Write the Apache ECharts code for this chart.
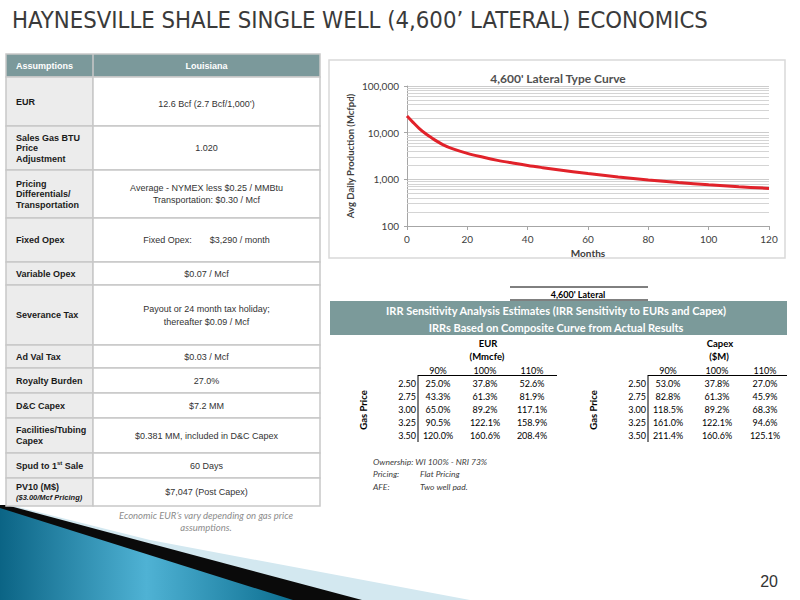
<!DOCTYPE html>
<html>
<head>
<meta charset="utf-8">
<script src="https://cdn.jsdelivr.net/npm/echarts@6/dist/echarts.min.js"></script>
<style>html,body{margin:0;padding:0;background:#fff}#c{width:800px;height:600px}</style>
</head>
<body>
<div id="c"></div>
<script>
// ---------------- DATA ----------------
const slideTitle = 'HAYNESVILLE SHALE SINGLE WELL (4,600’ LATERAL) ECONOMICS';
const chartTitle = '4,600\' Lateral Type Curve';
const months = [0, 2, 4, 6, 8, 10, 12, 15, 20, 25, 30, 35, 40, 45, 50, 60, 70, 80, 90, 100, 110, 120];
const production = [22700, 16600, 12400, 9700, 7900, 6500, 5500, 4550, 3600, 3000, 2550, 2235, 1980, 1780, 1610, 1330, 1125, 970, 855, 765, 695, 640];
const minorGridValues = [200, 300, 400, 500, 600, 700, 800, 900,
  2000, 3000, 4000, 5000, 6000, 7000, 8000, 9000,
  20000, 30000, 40000, 50000, 60000, 70000, 80000, 90000];

const assumptionHeader = ['Assumptions', 'Louisiana'];
const assumptionLabels = ['EUR', 'Sales Gas BTU\nPrice\nAdjustment', 'Pricing\nDifferentials/\nTransportation',
  'Fixed Opex', 'Variable Opex', 'Severance Tax', 'Ad Val Tax', 'Royalty Burden', 'D&C Capex',
  'Facilities/Tubing\nCapex', 'Spud to 1st Sale', 'PV10 (M$)\n($3.00/Mcf Pricing)'];
const assumptionValues = ['12.6 Bcf (2.7 Bcf/1,000’)', '1.020',
  'Average - NYMEX less $0.25 / MMBtu\nTransportation: $0.30 / Mcf',
  'Fixed Opex:\u2003\u2003$3,290 / month', '$0.07 / Mcf',
  'Payout or 24 month tax holiday;\nthereafter $0.09 / Mcf', '$0.03 / Mcf', '27.0%', '$7.2 MM',
  '$0.381 MM, included in D&C Capex', '60 Days', '$7,047 (Post Capex)'];
const footnote = 'Economic EUR’s vary depending on gas price\nassumptions.';

const lateralLabel = '4,600\' Lateral';
const bannerLines = ['IRR Sensitivity Analysis Estimates (IRR Sensitivity to EURs and Capex)',
  'IRRs Based on Composite Curve from Actual Results'];
const gasPrices = ['2.50', '2.75', '3.00', '3.25', '3.50'];
const sensitivityCols = ['90%', '100%', '110%'];
const eurTitle = ['EUR', '(Mmcfe)'];
const capexTitle = ['Capex', '($M)'];
const irrByEUR = [[25.0, 37.8, 52.6], [43.3, 61.3, 81.9], [65.0, 89.2, 117.1], [90.5, 122.1, 158.9], [120.0, 160.6, 208.4]];
const irrByCapex = [[53.0, 37.8, 27.0], [82.8, 61.3, 45.9], [118.5, 89.2, 68.3], [161.0, 122.1, 94.6], [211.4, 160.6, 125.1]];
const notes = [['Ownership: WI 100% - NRI 73%', ''], ['Pricing:', 'Flat Pricing'], ['AFE:', 'Two well pad.']];
const pageNumber = '20';

// ---------------- LAYOUT / RENDER ----------------
const chart = echarts.init(document.getElementById('c'), null, {renderer: 'svg', width: 800, height: 600});
const G = [];
const ARIAL = '"Liberation Sans", Arial, sans-serif';
const CAL = 'Lato, "Open Sans", sans-serif';
const TEAL = '#7b999b';
const BORDER = '#c8c8c8';

function txt(x, y, text, font, fill, align, extra) {
  return Object.assign({type: 'text', x: x, y: y, z: 10,
    style: Object.assign({text: text, font: font, fill: fill, align: align || 'center', verticalAlign: 'middle'}, (extra && extra.style) || {})},
    extra && extra.el || {});
}
function line(x1, y1, x2, y2, stroke, w) {
  return {type: 'line', z: 9, shape: {x1, y1, x2, y2}, style: {stroke: stroke, lineWidth: w || 1}};
}
function rect(x, y, w, h, fill, stroke, lw) {
  return {type: 'rect', z: 5, shape: {x, y, width: w, height: h}, style: {fill: fill, stroke: stroke || null, lineWidth: lw || 0}};
}

// Slide title
G.push(txt(12, 20, slideTitle, '23.7px "Liberation Sans Narrow", "DejaVu Sans Condensed", sans-serif', '#3a3a3a', 'left'));

// Decoration bottom-left
G.push({type: 'polygon', z: 1, shape: {points: [[10, 505], [150, 540], [470, 600], [0, 600], [0, 505]]}, style: {fill: '#d3e8f0'}});
G.push({type: 'polygon', z: 2, shape: {points: [[6, 505], [362, 600], [0, 600], [0, 505]]}, style: {fill: '#0a0a0a'}});
G.push({type: 'polygon', z: 3, shape: {points: [[0, 508], [293, 600], [0, 600]]},
  style: {fill: new echarts.graphic.LinearGradient(0, 0, 1, 0, [
    {offset: 0, color: '#0b6485'}, {offset: 0.5, color: '#4fb2d4'}, {offset: 1, color: '#0c6e90'}])}});

// Assumptions table
const X0 = 6, X1 = 93, X2 = 320;
const rowEdges = [77, 126, 170, 218, 262, 285, 345, 368, 393, 418, 453, 478, 506];
G.push(rect(X0, 54, X2 - X0, 23, TEAL, BORDER, 1.5));
G.push(line(X1, 54, X1, 77, BORDER, 1.5));
G.push(txt(16, 66, assumptionHeader[0], 'bold 9px ' + ARIAL, '#ffffff', 'left'));
G.push(txt((X1 + X2) / 2, 66, assumptionHeader[1], 'bold 9px ' + ARIAL, '#ffffff', 'center'));
assumptionLabels.forEach(function (lab, i) {
  const y0 = rowEdges[i], y1 = rowEdges[i + 1], cy = (y0 + y1) / 2;
  G.push(rect(X0, y0, X1 - X0, y1 - y0, '#ececec', BORDER, 1.5));
  G.push(rect(X1, y0, X2 - X1, y1 - y0, '#ffffff', BORDER, 1.5));
  const lines = lab.split('\n');
  const richText = lines.map(function (l, k) {
    if (k > 0 && l.charAt(0) === '(') return '{i|' + l + '}';
    return '{a|' + l.replace('1st', '1}{s|st}{a|') + '}';
  }).join('\n');
  G.push(txt(16, cy, richText, 'bold 9px ' + ARIAL, '#1a1a1a', 'left', {style: {
    lineHeight: lines.length > 1 && lines[1].charAt(0) === '(' ? 11 : 10.5,
    rich: {
      a: {fontFamily: ARIAL, fontWeight: 'bold', fontSize: 9, fill: '#1a1a1a', lineHeight: 10.5},
      s: {fontFamily: ARIAL, fontWeight: 'bold', fontSize: 6, fill: '#1a1a1a', verticalAlign: 'top', lineHeight: 10.5},
      i: {fontFamily: ARIAL, fontWeight: 'bold', fontStyle: 'italic', fontSize: 7.5, fill: '#1a1a1a', lineHeight: 11}
    }}}));
  G.push(txt((X1 + X2) / 2, cy + (i === 0 ? 2 : 0), assumptionValues[i], '9px ' + ARIAL, '#333333', 'center',
    {style: {lineHeight: i === 5 ? 13 : 11.5}}));
});
G.push(txt(206, 521, footnote, 'italic 9.5px ' + CAL, '#8c8c8c', 'center', {style: {lineHeight: 12}}));

// Chart box
G.push({type: 'rect', z: 0, shape: {x: 329, y: 60, width: 456, height: 198}, style: {fill: 'none', stroke: '#d9d9d9', lineWidth: 1.5}});
G.push(txt(558, 78, chartTitle, 'bold 12px ' + CAL, '#505050', 'center'));

// IRR section
G.push(line(510, 287, 648, 287, '#000', 1));
G.push(line(510, 300, 648, 300, '#000', 1));
G.push(txt(578, 294, lateralLabel, 'bold 9px ' + CAL, '#000', 'center'));
G.push(rect(330, 301, 457, 34, '#7b9a9a', null, 0));
G.push(txt(556, 310, bannerLines[0], 'bold 11px ' + CAL, '#ffffff', 'center'));
G.push(txt(556, 327, bannerLines[1], 'bold 11px ' + CAL, '#ffffff', 'center'));

function sensTable(title, cols, data, labelRight, lineRight, gasX) {
  const titleX = cols[1];
  G.push(txt(titleX + 3, 343, title[0], 'bold 9.5px ' + CAL, '#000', 'center'));
  G.push(txt(titleX + 2, 356, title[1], 'bold 9.5px ' + CAL, '#000', 'center'));
  sensitivityCols.forEach(function (c, j) { G.push(txt(cols[j], 370, c, '9px ' + CAL, '#000', 'center')); });
  G.push(line(labelRight + 2, 375.5, lineRight, 375.5, '#000', 1));
  G.push(line(labelRight + 2, 375, labelRight + 2, 442, '#000', 1));
  const rowsY = [383, 396, 409, 422, 435];
  gasPrices.forEach(function (g, i) {
    G.push(txt(labelRight, rowsY[i], g, '9px ' + CAL, '#000', 'right'));
    data[i].forEach(function (v, j) {
      G.push(txt(cols[j], rowsY[i], v.toFixed(1) + '%', '9px ' + CAL, '#000', 'center'));
    });
  });
  G.push(txt(gasX, 410, 'Gas Price', 'bold 9.5px ' + CAL, '#000', 'center', {el: {rotation: Math.PI / 2}}));
}
sensTable(eurTitle, [438, 485, 532], irrByEUR, 416, 557, 363);
sensTable(capexTitle, [668, 717, 765], irrByCapex, 646, 787, 593);

notes.forEach(function (n, i) {
  const y = [462, 474, 487][i];
  G.push(txt(373, y, n[0], 'italic 8.5px ' + CAL, '#404040', 'left'));
  if (n[1]) G.push(txt(420, y, n[1], 'italic 8.5px ' + CAL, '#404040', 'left'));
});

G.push(txt(778, 581, pageNumber, '16px "Liberation Sans Narrow", sans-serif', '#333', 'right'));

const option = {
  animation: false,
  backgroundColor: '#ffffff',
  grid: {left: 407, top: 86, width: 362, height: 140, containLabel: false},
  xAxis: {
    type: 'value', min: 0, max: 120, interval: 20,
    name: 'Months', nameLocation: 'middle', nameGap: 22,
    nameTextStyle: {fontFamily: CAL, fontWeight: 'bold', fontSize: 10, color: '#404040'},
    axisLine: {show: true, lineStyle: {color: '#a6a6a6', width: 1}},
    axisTick: {show: true, inside: false, length: 4, lineStyle: {color: '#a6a6a6'}},
    axisLabel: {fontFamily: CAL, fontSize: 10, color: '#404040', margin: 8},
    splitLine: {show: false}
  },
  yAxis: {
    type: 'log', logBase: 10, min: 100, max: 100000,
    name: 'Avg Daily Production (Mcfpd)', nameLocation: 'middle', nameGap: 52, nameRotate: 90,
    nameTextStyle: {fontFamily: CAL, fontWeight: 'bold', fontSize: 9.5, color: '#404040'},
    axisLine: {show: true, lineStyle: {color: '#a6a6a6', width: 1}},
    axisTick: {show: true, inside: false, length: 3, lineStyle: {color: '#a6a6a6'}},
    axisLabel: {fontFamily: CAL, fontSize: 10, color: '#404040', margin: 8,
      formatter: function (v) { return Math.round(v).toLocaleString('en-US'); }},
    splitLine: {show: true, lineStyle: {color: '#cccccc', width: 1}}
  },
  series: [
    {
      type: 'line', data: [], silent: true, z: 1,
      markLine: {silent: true, symbol: 'none', animation: false, label: {show: false},
        lineStyle: {color: '#d4d4d4', width: 1, type: 'solid'},
        data: minorGridValues.map(function (v) { return {yAxis: v}; })}
    },
    {
      type: 'line', z: 5, smooth: 0.35, symbol: 'none',
      lineStyle: {color: '#e1222a', width: 3},
      data: months.map(function (m, i) { return [m, production[i]]; })
    }
  ],
  graphic: {elements: G}
};
chart.setOption(option);
</script>
</body>
</html>
